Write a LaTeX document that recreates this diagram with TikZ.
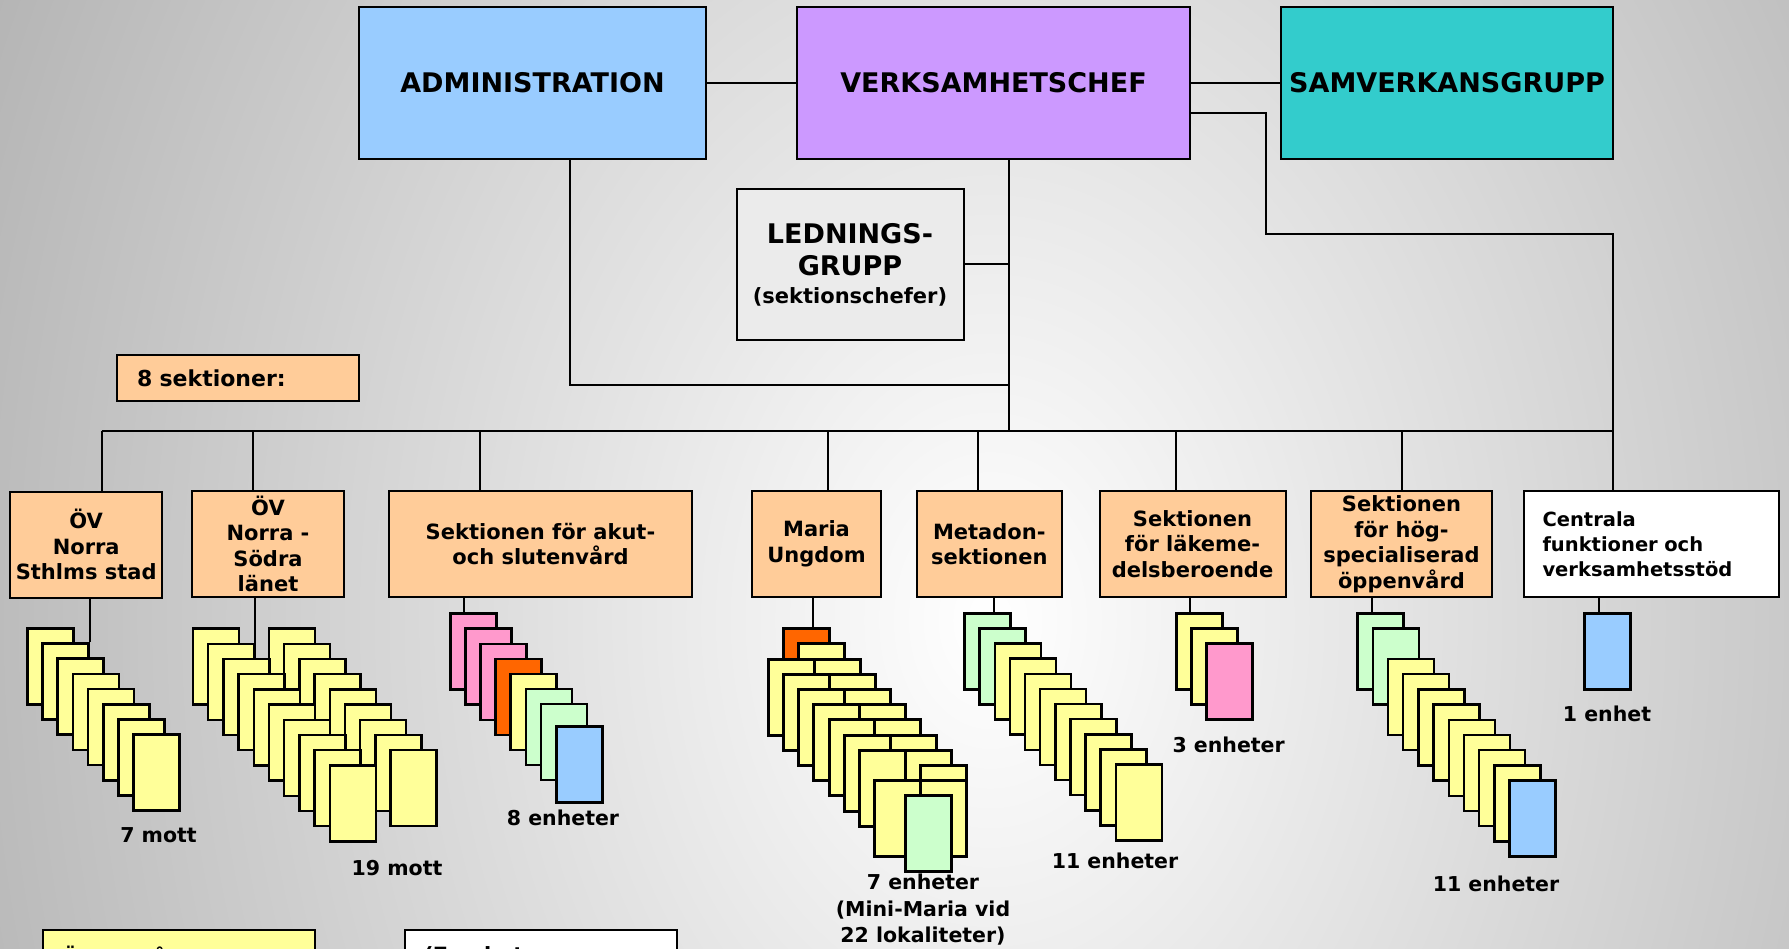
\documentclass[tikz,border=0pt]{standalone}
\usepackage{fontspec}
\setmainfont{DejaVu Sans}
\usepackage{tikz}
\definecolor{bggray}{HTML}{A4A4A4}
\definecolor{admblue}{HTML}{99CCFF}
\definecolor{chefviolet}{HTML}{CC99FF}
\definecolor{samteal}{HTML}{33CCCC}
\definecolor{ledgray}{HTML}{EBEBEB}
\definecolor{secorange}{HTML}{FFCC99}
\definecolor{unityellow}{HTML}{FFFF99}
\definecolor{unitpink}{HTML}{FF99CC}
\definecolor{unitorange}{HTML}{FF6600}
\definecolor{unitgreen}{HTML}{CCFFCC}
\definecolor{unitblue}{HTML}{99CCFF}
\begin{document}
\begin{tikzpicture}[x=1pt,y=-1pt,
        wire/.style={line width=2pt},
        chefbox/.style={draw,line width=2pt,minimum height=152pt,inner sep=0pt,align=center,font=\fontsize{27}{32}\selectfont\bfseries},
        secbox/.style={draw,line width=2pt,fill=secorange,minimum height=106pt,inner sep=0pt,align=center,font=\fontsize{21}{25.5}\selectfont\bfseries},
        unitbox/.style={draw,line width=2.5pt,minimum width=46pt,minimum height=76pt,inner sep=0pt,anchor=north west},
        countlabel/.style={inner sep=0pt,align=center,font=\fontsize{20.5}{26.5}\selectfont\bfseries}]
        \useasboundingbox (0,0) rectangle (1789,949);
        \begin{scope}
            \clip (0,0) rectangle (1789,949);
            \shade[inner color=white,outer color=bggray] (990,620) ellipse [x radius=1350pt,y radius=1800pt];
        \end{scope}

        \node (A) at (532.5,83) [chefbox,fill=admblue,minimum width=347pt] {ADMINISTRATION};
        \node (B) at (993.5,83) [chefbox,fill=chefviolet,minimum width=393pt] {VERKSAMHETSCHEF};
        \node (C) at (1447,83) [chefbox,fill=samteal,minimum width=332pt] {SAMVERKANSGRUPP};
        \node (D) at (850,264.5) [chefbox,fill=ledgray,minimum width=227pt,minimum height=151pt] {LEDNINGS-\\GRUPP\\[-4pt]\fontsize{21}{25}\selectfont(sektionschefer)};
        \node (E) at (238,378) [draw,line width=2pt,fill=secorange,minimum width=242pt,minimum height=46pt,text width=202pt,inner xsep=20pt,inner ysep=0pt,align=left,font=\fontsize{22}{26}\selectfont\bfseries] {8 sektioner:};

        \node (S1) at (86.2,544.5) [secbox,minimum width=151.7pt] {ÖV\\Norra\\Sthlms stad};
        \node (S2) at (268,544) [secbox,minimum width=152pt] {ÖV\\Norra -\\Södra\\länet};
        \node (S3) at (540.5,544) [secbox,minimum width=303pt] {Sektionen för akut-\\och slutenvård};
        \node (S4) at (816.5,544) [secbox,minimum width=129pt] {Maria\\Ungdom};
        \node (S5) at (989.3,544) [secbox,minimum width=144.6pt] {Metadon-\\sektionen};
        \node (S6) at (1192.5,544) [secbox,minimum width=186pt] {Sektionen\\för läkeme-\\delsberoende};
        \node (S7) at (1401.5,544) [secbox,minimum width=181pt] {Sektionen\\för hög-\\specialiserad\\öppenvård};
        \node (S8) at (1651,544) [secbox,fill=white,minimum width=255pt,text width=217pt,inner xsep=19pt,align=left,font=\fontsize{19.5}{25}\selectfont\bfseries] {Centrala\\funktioner och\\verksamhetsstöd};

        \coordinate (H) at (1009,431);
        \coordinate (K) at (570,385);
        \coordinate (R) at (1266,234);
        \coordinate (B1) at (101.6,431);
        \coordinate (B2) at (253,431);
        \coordinate (B3) at (480,431);
        \coordinate (B4) at (828,431);
        \coordinate (B5) at (978,431);
        \coordinate (B6) at (1175.5,431);
        \coordinate (B7) at (1402,431);
        \coordinate (B8) at (1613,431);

        \draw[wire] (A.east) -- (B.west);
        \draw[wire] (B.east) -- (C.west);
        \draw[wire] (B.south -| H) -- (H);
        \draw[wire] (D.east) -- (D.east -| H);
        \draw[wire] (A.south -| K) -- (K) -- (K -| H);
        \draw[wire] ([yshift=-30pt]B.east) -| (R) -| (B8 |- S8.north);
        \draw[wire] (B1) -- (B8);
        \draw[wire] (B1) -- (B1 |- S1.north);
        \draw[wire] (B2) -- (B2 |- S2.north);
        \draw[wire] (B3) -- (B3 |- S3.north);
        \draw[wire] (B4) -- (B4 |- S4.north);
        \draw[wire] (B5) -- (B5 |- S5.north);
        \draw[wire] (B6) -- (B6 |- S6.north);
        \draw[wire] (B7) -- (B7 |- S7.north);

        \foreach \i in {1,...,8}
            \node (U1-\i) at ({26+15.2*(\i-1)},{627+15.2*(\i-1)}) [unitbox,fill=unityellow] {};
        \foreach \i in {1,...,9}
            \node (U2b-\i) at ({267.7+15.2*(\i-1)},{627.3+15.2*(\i-1)}) [unitbox,fill=unityellow] {};
        \foreach \i in {1,...,10}
            \node (U2a-\i) at ({191.7+15.2*(\i-1)},{627.3+15.2*(\i-1)}) [unitbox,fill=unityellow] {};
        \foreach \c [count=\i] in {unitpink,unitpink,unitpink,unitorange,unityellow,unitgreen,unitgreen}
            \node (U3-\i) at ({449+15.1*(\i-1)},{612.3+15.1*(\i-1)}) [unitbox,fill=\c] {};
        \node (U3-8) at (555,725.3) [unitbox,fill=unitblue] {};
        \foreach \x/\y/\c [count=\i] in {782/627/unitorange,797/642/unityellow,767/658/unityellow,813/658/unityellow,
                782/673/unityellow,828/673/unityellow,797/688/unityellow,843/688/unityellow,812/703/unityellow,
                858/703/unityellow,828/718/unityellow,873/718/unityellow,843/734/unityellow,889/734/unityellow,
                858/749/unityellow,904/749/unityellow,919/764/unityellow,873/779/unityellow,919/779/unityellow,
                904/794/unitgreen}
            \node (M\i) at (\x,\y) [unitbox,fill=\c] {};
        \foreach \c [count=\i] in {unitgreen,unitgreen,unityellow,unityellow,unityellow,unityellow,unityellow,unityellow,unityellow,unityellow,unityellow}
            \node (U5-\i) at ({963.3+15.13*(\i-1)},{612+15.13*(\i-1)}) [unitbox,fill=\c] {};
        \foreach \c [count=\i] in {unityellow,unityellow,unitpink}
            \node (U6-\i) at ({1175+15.1*(\i-1)},{612+15.2*(\i-1)}) [unitbox,fill=\c] {};
        \node (U7-1) at (1356,612.3) [unitbox,fill=unitgreen] {};
        \node (U7-2) at (1371.5,627.3) [unitbox,fill=unitgreen] {};
        \foreach \i in {3,...,10}
            \node (U7-\i) at ({1386.7+15.2*(\i-3)},{657.7+15.2*(\i-3)}) [unitbox,fill=unityellow] {};
        \node (U7-11) at (1508.3,779.3) [unitbox,fill=unitblue] {};
        \node (U8) at (1583,612.3) [unitbox,fill=unitblue] {};
        \coordinate (T8) at ([xshift=16pt]U8.north west);

        \draw[wire] (S1.south -| U1-2.north east) -- (U1-2.north east);
        \draw[wire] (S2.south -| U2a-2.north east) -- (U2a-2.north east |- U2a-3.north);
        \draw[wire] (S3.south -| U3-2.north west) -- (U3-2.north west |- U3-1.north);
        \draw[wire] (S4.south -| M4.north west) -- (M4.north west |- M1.north);
        \draw[wire] (S5.south -| U5-3.north west) -- (U5-3.north west |- U5-1.north);
        \draw[wire] (S6.south -| U6-2.north west) -- (U6-2.north west |- U6-1.north);
        \draw[wire] (S7.south -| U7-2.north west) -- (U7-2.north west |- U7-1.north);
        \draw[wire] (S8.south -| T8) -- (T8);

        \node (L1) at (158.5,835) [countlabel] {7 mott};
        \node (L2) at (397,868) [countlabel] {19 mott};
        \node (L3) at (563,818) [countlabel] {8 enheter};
        \node (L4) at (923,910) [countlabel] {7 enheter\\(Mini-Maria vid\\22 lokaliteter)};
        \node (L5) at (1115,861) [countlabel] {11 enheter};
        \node (L6) at (1228.6,745) [countlabel] {3 enheter};
        \node (L7) at (1496,884) [countlabel] {11 enheter};
        \node (L8) at (1607,714) [countlabel] {1 enhet};

        \node (F) at (41.7,929) [anchor=north west,draw,line width=2pt,fill=unityellow,minimum width=272pt,minimum height=56pt,text width=234pt,inner xsep=19pt,inner ysep=0pt,align=left,font=\fontsize{21}{25}\selectfont\bfseries] {Öppenvård};
        \node (G) at (403.8,929) [anchor=north west,draw,line width=2pt,fill=white,minimum width=272pt,minimum height=52pt,text width=234pt,inner xsep=19pt,inner ysep=0pt,align=left,font=\fontsize{21}{25}\selectfont\bfseries] {(7 enheter};
    \end{tikzpicture}
\end{document}
